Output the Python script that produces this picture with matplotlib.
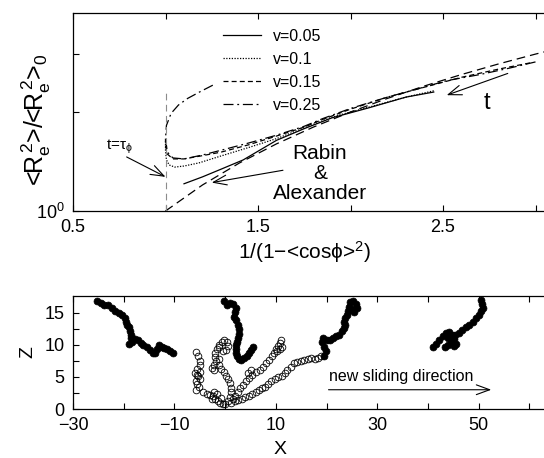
import matplotlib
matplotlib.use("Agg")
import matplotlib.pyplot as plt
from matplotlib.ticker import FixedLocator, NullFormatter, FixedFormatter

plt.rcParams["font.family"] = ["Liberation Sans", "DejaVu Sans"]
plt.rcParams["mathtext.fontset"] = "custom"
plt.rcParams["mathtext.rm"] = "Liberation Sans"
plt.rcParams["mathtext.it"] = "Liberation Sans"
plt.rcParams["mathtext.default"] = "regular"

# ---------------- upper panel data: R^2 ratio vs 1/(1-<cos phi>^2) ----------------
v005_x = [2.45, 2.30, 2.10, 1.90, 1.75, 1.60, 1.42, 1.30, 1.20, 1.10]
v005_y = [2.30, 2.22, 2.06, 1.92, 1.78, 1.64, 1.43, 1.34, 1.27, 1.21]

v010_x = [2.45, 2.30, 2.10, 1.90, 1.75, 1.60, 1.45, 1.30, 1.18, 1.10, 1.05, 1.02, 1.005, 1.0, 1.0]
v010_y = [2.32, 2.22, 2.07, 1.93, 1.79, 1.66, 1.56, 1.47, 1.40, 1.37, 1.36, 1.38, 1.43, 1.53, 1.63]

v015_x = [2.97, 2.80, 2.60, 2.40, 2.20, 2.00, 1.85, 1.75, 1.60, 1.45, 1.30, 1.19, 1.10, 1.04, 1.01, 1.0, 1.0]
v015_y = [2.82, 2.70, 2.55, 2.38, 2.22, 2.04, 1.90, 1.80, 1.69, 1.59, 1.51, 1.47, 1.44, 1.44, 1.49, 1.58, 1.66]

v025_x = [3.00, 2.86, 2.70, 2.52, 2.35, 2.20, 2.00, 1.85, 1.75, 1.60, 1.45, 1.30, 1.20, 1.10, 1.04, 1.01,
          1.0, 1.005, 1.03, 1.07, 1.12, 1.19, 1.26]
v025_y = [2.84, 2.72, 2.60, 2.49, 2.34, 2.22, 2.05, 1.91, 1.81, 1.70, 1.61, 1.53, 1.48, 1.44, 1.45, 1.51,
          1.66, 1.82, 1.98, 2.10, 2.20, 2.31, 2.42]

ra_x = [1.0, 1.2, 1.4, 1.6, 1.8, 2.0, 2.2, 2.4, 2.6, 2.8, 3.0, 3.2]
ra_y = [1.0, 1.2, 1.4, 1.6, 1.8, 2.0, 2.2, 2.4, 2.6, 2.8, 3.0, 3.2]

tau_x = [1.0, 1.0]
tau_y = [1.0, 2.32]

legend_labels = ["v=0.05", "v=0.1", "v=0.15", "v=0.25"]

# ---------------- lower panel data: chain conformations ----------------
fill1_x = [-25.3, -24.5, -23.8, -23.0, -22.4, -21.7, -21.0, -20.4, -19.8, -19.6, -19.4, -19.0, -18.7,
           -18.5, -18.6, -18.9, -18.3, -17.7, -17.1, -16.6, -16.1, -15.5, -14.9, -14.3, -13.8, -13.4,
           -13.0, -12.5, -12.0, -11.4, -10.8, -10.2]
fill1_z = [16.8, 16.5, 16.2, 16.2, 15.7, 15.3, 15.0, 14.6, 14.2, 13.6, 13.1, 12.7, 12.2,
           11.6, 11.0, 10.2, 10.5, 10.9, 10.7, 10.3, 9.9, 9.6, 9.2, 8.8, 8.8, 9.3,
           9.9, 9.7, 9.5, 9.3, 9.0, 8.7]

fill2_x = [-0.2, 0.3, 1.0, 1.6, 2.1, 1.9, 1.8, 2.1, 2.5, 2.8, 2.7, 2.5, 2.3, 2.1, 2.1, 2.1, 2.3,
           2.7, 3.2, 3.8, 4.3, 4.8, 5.2, 5.5]
fill2_z = [16.8, 16.2, 16.5, 16.3, 15.7, 15.1, 14.4, 13.8, 13.1, 12.4, 11.7, 11.1, 10.5, 9.9, 9.3, 8.7, 8.2,
           7.8, 7.7, 7.9, 8.3, 8.7, 9.2, 9.7]

fill3_x = [19.6, 19.9, 19.6, 19.2, 19.4, 20.1, 20.7, 21.2, 21.8, 22.5, 23.1, 23.5, 23.7, 23.4, 23.7,
           24.1, 24.3, 24.5, 24.7, 25.3, 25.8, 26.1, 25.4, 24.9]
fill3_z = [8.3, 9.0, 9.7, 10.4, 11.0, 10.8, 10.7, 11.1, 11.4, 11.6, 12.1, 12.6, 13.1, 13.6, 14.1,
           14.7, 15.3, 15.9, 16.6, 16.8, 16.3, 15.7, 15.1, 15.5]

fill4_x = [41.0, 41.6, 42.2, 42.9, 43.5, 44.2, 44.8, 45.2, 45.6, 45.1, 44.5, 43.9, 43.3, 43.9, 44.6,
           45.4, 46.1, 46.8, 47.5, 48.2, 48.8, 49.4, 50.0, 50.5, 50.8, 50.7, 50.4]
fill4_z = [9.6, 10.2, 10.8, 11.3, 11.8, 12.0, 11.6, 10.9, 10.1, 9.8, 10.3, 10.0, 9.6, 11.0, 11.4,
           11.6, 11.9, 12.3, 12.7, 13.1, 13.6, 14.1, 14.6, 15.2, 15.8, 16.4, 16.9]

open_left_x = [-5.8, -5.4, -4.9, -5.0, -5.6, -6.0, -5.4, -5.0, -5.8, -5.5, -5.1, -5.8, -5.6, -5.0,
               -4.3, -3.6, -2.9, -2.3, -1.9, -1.4, -1.0, -0.5, -2.2, -2.6, -1.6, -0.8]
open_left_z = [8.9, 8.2, 7.5, 6.8, 6.3, 5.6, 5.1, 4.7, 4.4, 3.9, 3.4, 3.0, 5.3, 5.8,
               2.6, 2.4, 2.2, 2.0, 1.6, 1.2, 0.9, 0.8, 2.7, 1.6, 2.3, 1.7]

open_mid_x = [0.0, 0.5, 0.9, 1.1, 1.1, 0.9, 0.6, 0.2, -0.3, -0.8, -1.3, -1.7, -2.0, -1.9, -1.6, -1.2,
              -0.7, -0.2, 0.3, 0.5, 0.1, -0.5, -1.2, -2.2, -2.6, -2.1, -1.3]
open_mid_z = [0.8, 1.3, 1.9, 2.6, 3.3, 4.0, 4.6, 5.2, 5.8, 6.3, 6.9, 7.5, 8.1, 8.8, 9.4, 10.0,
              10.5, 10.8, 10.4, 9.8, 9.2, 9.0, 9.6, 6.9, 6.4, 6.0, 7.8]

open_c_x = [1.5, 2.0, 2.5, 3.0, 3.6, 4.2, 4.8, 5.4, 6.1, 6.8, 7.5, 8.1, 8.7, 9.2, 9.6, 10.0, 10.4,
            10.8, 11.1, 11.3, 10.8, 10.3, 4.6, 5.2]
open_c_z = [1.6, 2.1, 2.6, 3.2, 3.8, 4.4, 4.9, 5.3, 5.7, 6.1, 6.6, 7.1, 7.6, 8.2, 8.8, 9.3, 9.8,
            10.3, 10.7, 9.6, 9.3, 9.0, 5.6, 6.0]

open_d_x = [1.2, 1.9, 2.6, 3.3, 4.0, 4.7, 5.4, 6.1, 6.7, 7.3, 7.9, 8.5, 9.1, 9.8, 10.5, 11.2, 11.8,
            12.3, 12.9, 13.5, 14.2, 14.9, 15.6, 16.3, 17.0, 17.7, 18.4, 19.0]
open_d_z = [1.0, 1.2, 1.4, 1.6, 1.9, 2.1, 2.3, 2.6, 2.9, 3.2, 3.5, 3.9, 4.3, 4.7, 5.0, 5.2, 5.6,
            6.1, 6.6, 7.1, 7.3, 7.4, 7.6, 7.8, 8.0, 7.8, 8.0, 8.2]

# ---------------- figure ----------------
W, H = 544, 458
fig = plt.figure(figsize=(W / 100, H / 100), dpi=100)


def px_rect(left, top, right, bottom):
    return [left / W, 1 - bottom / H, (right - left) / W, (bottom - top) / H]


ax1 = fig.add_axes(px_rect(73, 13, 73 + 3.0 * 185, 211))
lw = 0.9
l1, = ax1.plot(v005_x, v005_y, color="black", lw=lw, ls="-")
l2, = ax1.plot(v010_x, v010_y, color="black", lw=lw, ls=(0, (1, 1.2)))
l3, = ax1.plot(v015_x, v015_y, color="black", lw=lw, ls=(0, (4, 2.5)))
l4, = ax1.plot(v025_x, v025_y, color="black", lw=lw, ls=(0, (8, 3, 1.5, 3)))
ax1.plot(ra_x, ra_y, color="black", lw=lw, ls=(0, (7, 4)))
ax1.plot(tau_x, tau_y, color="0.55", lw=0.8, ls=(0, (6, 4)))

ax1.set_yscale("log")
ax1.set_xlim(0.5, 3.5)
ax1.set_ylim(1.0, 4.0)
ax1.xaxis.set_major_locator(FixedLocator([0.5, 1.5, 2.5]))
ax1.xaxis.set_minor_locator(FixedLocator([1.0, 2.0, 3.0]))
ax1.yaxis.set_major_locator(FixedLocator([1.0]))
ax1.yaxis.set_major_formatter(FixedFormatter([r"$10^{0}$"]))
ax1.yaxis.set_minor_locator(FixedLocator([2.0, 3.0]))
ax1.yaxis.set_minor_formatter(NullFormatter())
ax1.tick_params(which="both", direction="in", top=True, right=True, length=4, width=0.8,
                labelsize=13, pad=6)

ax1.legend([l1, l2, l3, l4], legend_labels, loc="upper left", frameon=False,
           bbox_to_anchor=(223 / W, 1 - 29 / H), bbox_transform=fig.transFigure,
           borderaxespad=0, borderpad=0, handlelength=2.4, handletextpad=0.7,
           labelspacing=0.5, fontsize=11.5)

ax1.set_ylabel(r"<R$_e^{\,2}$>/<R$_e^{\,2}$>$_0$", fontsize=18)
ax1.yaxis.set_label_coords(-0.036, 0.46)
fig.text(305 / W, 1 - 252 / H, r"1/(1$-$<cos$\phi$>$^{2}$)", fontsize=15, ha="center", va="center")

arrow_kw = dict(arrowstyle="->,head_length=0.6,head_width=0.22", lw=0.8, color="black",
                shrinkA=0, shrinkB=0, mutation_scale=16)
ax1.annotate("", xy=(1.0, 1.27), xytext=(0.79, 1.46), arrowprops=arrow_kw)
ax1.text(0.75, 1.57, r"t=$\tau_{\phi}$", fontsize=11, ha="center", va="center")

ax1.annotate("", xy=(1.25, 1.22), xytext=(1.635, 1.33), arrowprops=arrow_kw)
ax1.text(1.835, 1.30, "Rabin\n&\nAlexander", fontsize=15, ha="center", va="center",
         linespacing=1.05)

ax1.annotate("", xy=(2.52, 2.25), xytext=(2.85, 2.62), arrowprops=arrow_kw)
ax1.text(2.74, 2.13, "t", fontsize=17, ha="center", va="center")

# ---------------- lower panel ----------------
ax2 = fig.add_axes(px_rect(73, 296, 73 + 100 * 5.07, 409))
fill_style = dict(ls="none", marker="o", ms=5.0, mfc="black", mec="black", mew=0.5)
open_style = dict(ls="none", marker="o", ms=4.8, mfc="none", mec="black", mew=0.6)
for xs, zs in ((fill1_x, fill1_z), (fill2_x, fill2_z), (fill3_x, fill3_z), (fill4_x, fill4_z)):
    ax2.plot(xs, zs, **fill_style)
for xs, zs in ((open_left_x, open_left_z), (open_mid_x, open_mid_z),
               (open_c_x, open_c_z), (open_d_x, open_d_z)):
    ax2.plot(xs, zs, **open_style)

ax2.set_xlim(-30, 70)
ax2.set_ylim(0, 17.6)
ax2.xaxis.set_major_locator(FixedLocator([-30, -10, 10, 30, 50]))
ax2.xaxis.set_minor_locator(FixedLocator([-20, 0, 20, 40, 60]))
ax2.yaxis.set_major_locator(FixedLocator([0, 5, 10, 15]))
ax2.yaxis.set_minor_locator(FixedLocator([2.5, 7.5, 12.5]))
ax2.xaxis.set_major_formatter(FixedFormatter(["\u221230", "\u221210", "10", "30", "50"]))
ax2.tick_params(which="both", direction="in", top=True, right=True, length=4, width=0.8,
                labelsize=13, pad=6)
ax2.set_ylabel("Z", fontsize=14, labelpad=6)
fig.text(280 / W, 1 - 449 / H, "X", fontsize=14, ha="center", va="center")

ax2.annotate("", xy=(52.5, 3.0), xytext=(20.4, 3.0), arrowprops=arrow_kw)
ax2.text(20.4, 3.9, "new sliding direction", fontsize=11.5, ha="left", va="bottom")

for ax in (ax1, ax2):
    for s in ax.spines.values():
        s.set_linewidth(0.9)

fig.savefig("out.png", dpi=100)
